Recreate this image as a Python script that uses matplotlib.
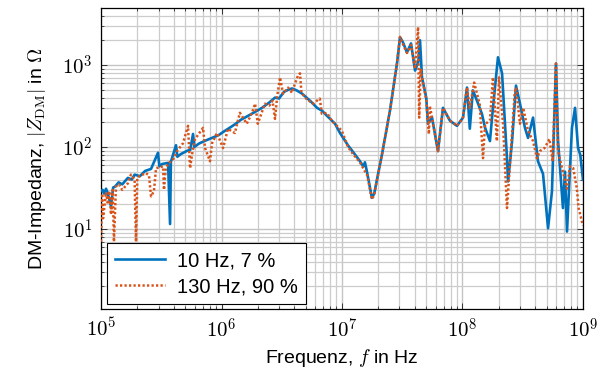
#!/bin/python3

import numpy as np
import matplotlib
matplotlib.use('Agg')
import matplotlib.pyplot as plt
from matplotlib.ticker import LogLocator, FuncFormatter, NullFormatter


################################################################################
# values (frequency in Hz, impedance in Ohm)

freq_10hz = [1.00e5, 1.03e5, 1.06e5, 1.10e5, 1.14e5, 1.21e5, 1.26e5, 1.31e5,
             1.40e5, 1.50e5, 1.67e5, 1.80e5, 1.90e5, 2.10e5, 2.32e5, 2.60e5,
             2.97e5, 3.05e5, 3.21e5, 3.60e5, 3.74e5, 3.80e5, 4.19e5, 4.30e5,
             4.60e5, 5.20e5, 5.50e5, 5.80e5, 5.95e5, 6.50e5, 7.20e5, 8.34e5,
             9.50e5, 1.05e6, 1.13e6, 1.30e6, 1.45e6, 1.57e6, 1.85e6, 2.17e6,
             2.50e6, 2.78e6, 3.00e6, 3.30e6, 3.60e6, 3.85e6, 4.20e6, 4.66e6,
             5.50e6, 6.20e6, 6.82e6, 7.50e6, 8.75e6, 9.62e6, 1.12e7, 1.25e7,
             1.41e7, 1.50e7, 1.55e7, 1.62e7, 1.77e7, 1.85e7, 2.15e7, 2.50e7,
             2.86e7, 3.03e7, 3.20e7, 3.46e7, 3.74e7, 4.04e7, 4.30e7, 4.44e7,
             4.61e7, 5.00e7, 5.17e7, 5.58e7, 6.26e7, 6.89e7, 7.87e7, 9.00e7,
             1.01e8, 1.09e8, 1.15e8, 1.22e8, 1.32e8, 1.45e8, 1.54e8, 1.69e8,
             1.79e8, 1.97e8, 2.13e8, 2.34e8, 2.39e8, 2.58e8, 2.78e8, 3.00e8,
             3.30e8, 3.50e8, 3.85e8, 4.23e8, 4.66e8, 5.13e8, 5.53e8, 5.97e8,
             6.21e8, 6.82e8, 7.09e8, 7.37e8, 8.10e8, 8.59e8, 9.10e8, 9.50e8,
             1.00e9]
z_10hz = [29, 30, 27, 31, 27, 19, 32, 33,
          37, 35, 42, 40, 46, 44, 51, 54,
          85, 58, 62, 64, 11.5, 66, 105, 76,
          82, 90, 92, 144, 100, 110, 118, 129,
          140, 155, 166, 190, 215, 229, 262, 300,
          350, 400, 390, 470, 500, 517, 490, 447,
          360, 300, 277, 240, 192, 148, 105, 85,
          67, 58, 65, 48, 24, 27, 82, 277,
          1047, 2180, 1900, 1420, 1830, 855, 1100, 2000,
          705, 400, 192, 230, 89, 300, 209, 181,
          228, 530, 167, 490, 365, 253, 171, 118,
          300, 1240, 790, 73, 38, 118, 560, 337,
          171, 129, 228, 67, 47, 10.2, 29, 1040,
          118, 18, 50, 9.3, 171, 300, 97, 80,
          40]

freq_130hz = [1.00e5, 1.02e5, 1.04e5, 1.10e5, 1.14e5, 1.17e5, 1.21e5, 1.25e5,
              1.28e5, 1.33e5, 1.41e5, 1.50e5, 1.67e5, 1.77e5, 1.90e5, 1.95e5,
              2.00e5, 2.07e5, 2.36e5, 2.50e5, 2.60e5, 2.75e5, 2.86e5, 3.27e5,
              3.33e5, 3.45e5, 3.60e5, 4.03e5, 4.27e5, 4.79e5, 5.27e5, 5.48e5,
              5.70e5, 6.03e5, 7.02e5, 7.30e5, 8.02e5, 8.34e5, 9.17e5, 1.03e6,
              1.13e6, 1.29e6, 1.42e6, 1.62e6, 1.79e6, 1.90e6, 2.00e6, 2.29e6,
              2.50e6, 2.65e6, 2.78e6, 2.90e6, 3.06e6, 3.24e6, 3.57e6, 3.85e6,
              4.07e6, 4.31e6, 4.48e6, 4.60e6, 4.92e6, 5.73e6, 6.54e6, 6.80e6,
              7.50e6, 8.25e6, 9.98e6, 1.12e7, 1.25e7, 1.41e7, 1.50e7, 1.62e7,
              1.77e7, 1.85e7, 2.15e7, 2.50e7, 2.86e7, 3.03e7, 3.20e7, 3.46e7,
              3.74e7, 4.04e7, 4.28e7, 4.37e7, 4.50e7, 4.61e7, 5.00e7, 5.26e7,
              5.35e7, 5.58e7, 6.26e7, 6.89e7, 7.87e7, 9.00e7, 1.01e8, 1.09e8,
              1.15e8, 1.25e8, 1.39e8, 1.48e8, 1.54e8, 1.69e8, 1.79e8, 1.93e8,
              2.01e8, 2.17e8, 2.34e8, 2.52e8, 2.71e8, 2.78e8, 3.00e8, 3.19e8,
              3.50e8, 3.85e8, 4.15e8, 4.38e8, 4.80e8, 5.27e8, 5.60e8, 5.97e8,
              6.21e8, 6.70e8, 7.37e8, 7.80e8, 8.30e8, 8.90e8, 9.20e8, 1.00e9]
z_130hz = [7.0, 27, 13.5, 28, 20, 29, 15, 30,
           7.0, 33, 35, 30, 36, 46, 40, 7.0,
           42, 44, 48, 45, 25, 29, 55, 58,
           30, 55, 62, 73, 89, 111, 181, 55,
           82, 125, 171, 97, 67, 111, 148, 97,
           166, 148, 261, 192, 261, 337, 192, 337,
           320, 366, 220, 420, 704, 447, 528, 457,
           592, 740, 790, 470, 400, 337, 389, 254,
           260, 208, 157, 100, 80, 65, 55, 45,
           23, 26, 82, 277, 1047, 2200, 1800, 1400,
           1750, 900, 2900, 228, 900, 700, 380, 144,
           317, 230, 89, 300, 209, 181, 228, 530,
           300, 610, 330, 73, 190, 210, 705, 118,
           705, 192, 18, 89, 447, 530, 192, 300,
           157, 118, 73, 89, 97, 125, 67, 1040,
           89, 55, 31, 58, 55, 31, 18, 11]

labels = ['10 Hz, 7 %', '130 Hz, 90 %']

################################################################################

plt.rcParams['font.family'] = ['Liberation Sans', 'DejaVu Sans']
plt.rcParams['mathtext.fontset'] = 'cm'

fig = plt.figure(figsize=(6.05, 3.80), dpi=100)
ax = fig.add_axes([0.167, 0.187, 0.7966, 0.792])

ax.plot(freq_10hz, z_10hz, color='#0072BD', lw=1.9, ls='-',
        label=labels[0], zorder=3)
ax.plot(freq_130hz, z_130hz, color='#D95319', lw=1.8, ls=(0, (0.9, 0.9)),
        label=labels[1], zorder=4)

ax.set_xscale('log')
ax.set_yscale('log')
ax.set_xlim(1e5, 1e9)
ax.set_ylim(1.06, 4950)

ax.xaxis.set_major_locator(LogLocator(base=10, numticks=10))
ax.yaxis.set_major_locator(LogLocator(base=10, numticks=10))
ax.xaxis.set_minor_locator(LogLocator(base=10, subs=np.arange(2, 10),
                                      numticks=20))
ax.yaxis.set_minor_locator(LogLocator(base=10, subs=np.arange(2, 10),
                                      numticks=20))
tick_fmt = FuncFormatter(lambda v, pos: r'$10^{%d}$' % round(np.log10(v)))
ax.xaxis.set_major_formatter(tick_fmt)
ax.yaxis.set_major_formatter(tick_fmt)
ax.xaxis.set_minor_formatter(NullFormatter())
ax.yaxis.set_minor_formatter(NullFormatter())

ax.grid(True, which='major', color='#c4c4c4', lw=1.0)
ax.grid(True, which='minor', color='#cccccc', lw=0.9)
ax.set_axisbelow(True)

ax.tick_params(which='both', direction='in', top=True, right=True,
               labelsize=15, color='#333333')
ax.tick_params(which='major', length=4, width=0.7, pad=6)
ax.tick_params(which='minor', length=2.5, width=0.6)
for sp in ax.spines.values():
    sp.set_linewidth(0.9)

ax.set_xlabel(r'Frequenz, $f$ in Hz', fontsize=14, labelpad=4)
ax.set_ylabel(r'DM-Impedanz, $|Z_{\mathrm{DM}}|$ in $\Omega$', fontsize=14,
              labelpad=10)

leg = ax.legend(loc='lower left', bbox_to_anchor=(0.012, 0.016),
                borderaxespad=0, fontsize=14.5, fancybox=False,
                framealpha=1, edgecolor='black', handlelength=2.5,
                borderpad=0.4, labelspacing=0.35, handletextpad=0.6)
leg.get_frame().set_linewidth(0.8)

fig.savefig('out.png', dpi=100)
